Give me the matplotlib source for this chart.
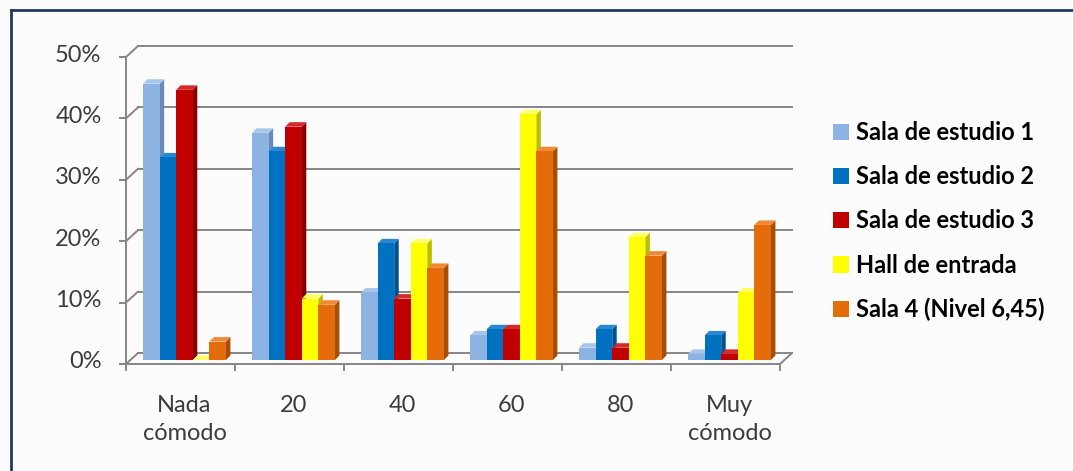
import matplotlib
matplotlib.use("Agg")
import matplotlib.pyplot as plt
from matplotlib.patches import Polygon, Patch
from matplotlib.ticker import PercentFormatter

categories = ["Nada\ncómodo", "20", "40", "60", "80", "Muy\ncómodo"]
series = ["Sala de estudio 1", "Sala de estudio 2", "Sala de estudio 3",
          "Hall de entrada", "Sala 4 (Nivel 6,45)"]
sala1 = [45, 37, 11, 4, 2, 1]
sala2 = [33, 34, 19, 5, 5, 4]
sala3 = [44, 38, 10, 5, 2, 1]
hall = [0, 10, 19, 40, 20, 11]
sala4 = [3, 9, 15, 34, 17, 22]
values = [sala1, sala2, sala3, hall, sala4]

# front, side, top shades for each series
front_colors = ["#8DB3E2", "#0070C0", "#C00000", "#FFFF00", "#E46C0A"]
side_colors = ["#6A8AB8", "#00528E", "#860000", "#BDBD00", "#A64E06"]
top_colors = ["#A8C6EC", "#2A88D0", "#D42A2A", "#FFFF66", "#F08A36"]

W, H = 1073, 471
fig = plt.figure(figsize=(W / 100, H / 100), dpi=100)
fig.patch.set_facecolor("#FCFCFC")
plt.rcParams["font.family"] = ["Lato", "DejaVu Sans"]

# plot area in pixels: 0% at y=360, 50% at y=53
left, right, y0, y50 = 130, 784, 360, 53
ax = fig.add_axes([left / W, 1 - y0 / H, (right - left) / W, (y0 - y50) / H])
ax.set_xlim(0, 6)
ax.set_ylim(0, 50)
ax.set_facecolor("none")
for s in ax.spines.values():
    s.set_visible(False)

px_x = (right - left) / 6.0
px_y = (y0 - y50) / 50.0


def dx(p):
    return p / px_x


def dy(p):
    return p / px_y


# 3d walls: front plane shifted down-left, back plane up-right
fx, fy = dx(-4), dy(-4)
bx, by = dx(8), dy(7)
gc = "#868686"
lw = 1.4
for v in range(0, 51, 10):
    ax.plot([bx, 6 + bx], [v + by, v + by], color=gc, lw=lw, clip_on=False, zorder=1)
    ax.plot([fx, bx], [v + fy, v + by], color=gc, lw=lw, clip_on=False, zorder=1)
    ax.plot([fx - dx(6), fx], [v + fy, v + fy], color=gc, lw=lw, clip_on=False, zorder=1)
ax.plot([fx, fx], [fy, 50 + fy], color=gc, lw=lw, clip_on=False, zorder=1)
ax.plot([fx, 6 + fx], [fy, fy], color=gc, lw=lw, clip_on=False, zorder=1)
ax.plot([6 + fx, 6 + bx], [fy, by], color=gc, lw=lw, clip_on=False, zorder=1)
for k in range(7):
    ax.plot([k + fx, k + fx], [fy, fy - dy(6)], color=gc, lw=lw, clip_on=False, zorder=1)

# bars with side and top faces
n = len(series)
bw = 0.152
start = 0.5 - n * bw / 2
ddx, ddy = dx(4.5), dy(4.5)
z = 2
for c in range(len(categories)):
    for i in range(n):
        h = values[i][c]
        x0 = c + start + i * bw
        x1 = x0 + bw
        side = Polygon([(x1, 0), (x1 + ddx, ddy), (x1 + ddx, h + ddy), (x1, h)],
                       closed=True, facecolor=side_colors[i], edgecolor="none", zorder=z)
        top = Polygon([(x0, h), (x0 + ddx, h + ddy), (x1 + ddx, h + ddy), (x1, h)],
                      closed=True, facecolor=top_colors[i], edgecolor="none", zorder=z)
        ax.add_patch(side)
        ax.add_patch(top)
        ax.bar(x0, h, width=bw, align="edge", color=front_colors[i],
               edgecolor="none", zorder=z + 0.5)
        z += 1

ax.set_xticks([c + 0.5 for c in range(len(categories))])
ax.set_xticklabels(categories)
ax.set_yticks(range(0, 51, 10))
ax.yaxis.set_major_formatter(PercentFormatter(decimals=0))
ax.tick_params(axis="x", length=0, pad=25, labelsize=17, labelcolor="#3C3C3C")
ax.tick_params(axis="y", length=0, pad=20.5, labelsize=17, labelcolor="#3C3C3C")
for t in ax.get_xticklabels():
    t.set_linespacing(1.45)
    t.set_verticalalignment("top")

handles = [Patch(facecolor=front_colors[i], edgecolor="none") for i in range(n)]
fig.legend(handles, series, loc="upper left", bbox_to_anchor=(833 / W, 1 - 121 / H),
           frameon=False, prop={"weight": "bold", "size": 17},
           handlelength=0.68, handleheight=0.68, handletextpad=0.3,
           labelspacing=0.9, borderaxespad=0, borderpad=0)

# outer chart frame (top and left edges)
fig.add_artist(plt.Line2D([11 / W, 1], [1 - 10 / H, 1 - 10 / H], color="#1F3A5F", lw=2,
                          transform=fig.transFigure))
fig.add_artist(plt.Line2D([11 / W, 11 / W], [0, 1 - 10 / H], color="#1F3A5F", lw=2,
                          transform=fig.transFigure))

fig.savefig("out.png", dpi=100, facecolor=fig.get_facecolor())
